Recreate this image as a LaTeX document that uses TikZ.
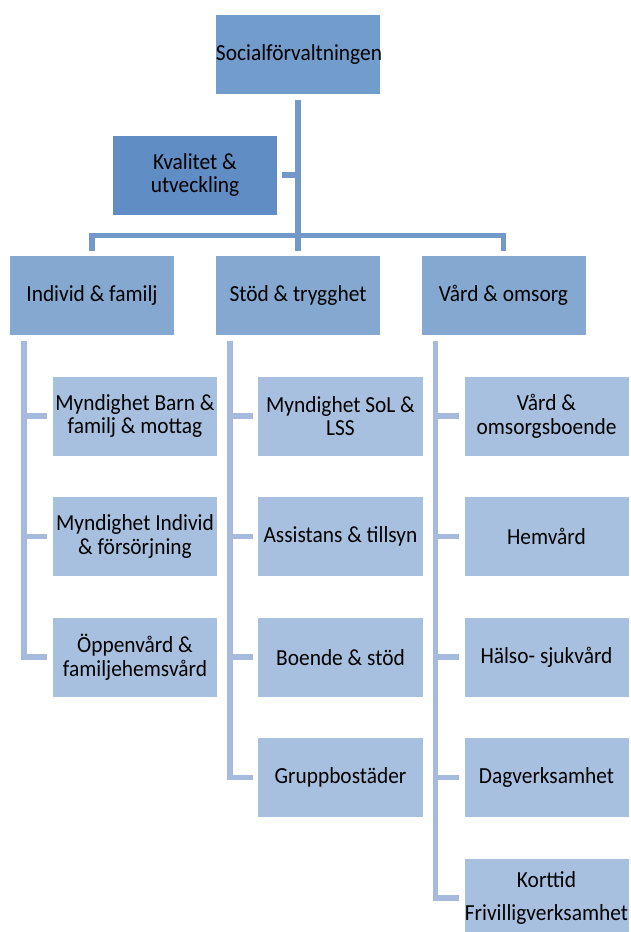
\documentclass[tikz,border=0pt]{standalone}
\usepackage{fontspec}
\setmainfont{Carlito}[FakeStretch=0.93]
\usepackage{tikz}

\definecolor{topblue}{HTML}{729CCC}
\definecolor{qualblue}{HTML}{608DC4}
\definecolor{midblue}{HTML}{84A8D0}
\definecolor{subblue}{HTML}{A8C0DF}
\definecolor{trunkblue}{HTML}{7398CA}
\definecolor{twigblue}{HTML}{A5BADC}

\begin{document}
\begin{tikzpicture}[
    box/.style={rectangle, minimum width=164pt, minimum height=79.4pt, inner sep=0pt,
      outer sep=5.5pt, text width=164pt, align=flush center,
      font=\fontsize{23pt}{23.5pt}\selectfont},
    topbox/.style={box, fill=topblue},
    qualbox/.style={box, fill=qualblue},
    midbox/.style={box, fill=midblue},
    subbox/.style={box, fill=subblue},
    trunk/.style={draw=trunkblue, line width=5.5pt},
    twig/.style={draw=twigblue, line width=5.5pt},
    node distance=120.5pt]
      \useasboundingbox (-298pt,54.7pt) rectangle (332pt,-877.3pt);

      \node[topbox] (1) {Socialförvaltningen};
      \node[qualbox,below of=1,xshift=-103pt] (2) {Kvalitet \&\\utveckling};
      \node[midbox,below of=2,xshift=103pt] (4) {Stöd \& trygghet};
      \node[midbox,left of=4,node distance=206pt] (3) {Individ \& familj};
      \node[midbox,right of=4,node distance=205.5pt] (5) {Vård \& omsorg};

      \node[subbox,below of=3,xshift=43pt] (6) {Myndighet Barn \&\\familj \& mottag};
      \node[subbox,below of=6] (7) {Myndighet Individ\\\& försörjning};
      \node[subbox,below of=7] (8) {Öppenvård \&\\familjehemsvård};

      \node[subbox,below of=4,xshift=42.5pt] (9) {Myndighet SoL \&\\LSS};
      \node[subbox,below of=9] (10) {Assistans \& tillsyn};
      \node[subbox,below of=10] (11) {Boende \& stöd};
      \node[subbox,below of=11] (12) {Gruppbostäder};

      \node[subbox,below of=5,xshift=43pt] (13) {Vård \&\\omsorgsboende};
      \node[subbox,below of=13] (14) {Hemvård};
      \node[subbox,below of=14] (15) {Hälso- sjukvård};
      \node[subbox,below of=15] (16) {Dagverksamhet};
      \node[subbox,below of=16] (17) {Korttid\\[9pt]Frivilligverksamhet};

      \draw[trunk] (1) -- (4);
      \draw[trunk] (2.east) -- (2.east -| 1);
      \draw[trunk] (3.north) -- ++(0,15pt) -| (5.north);

      \foreach \c in {6,7,8}
        \draw[twig] ([xshift=19.5pt]3.south west) |- (\c.west);
      \foreach \c in {9,10,11,12}
        \draw[twig] ([xshift=19.5pt]4.south west) |- (\c.west);
      \foreach \c in {13,14,15,16,17}
        \draw[twig] ([xshift=19.5pt]5.south west) |- (\c.west);
    \end{tikzpicture}
\end{document}
